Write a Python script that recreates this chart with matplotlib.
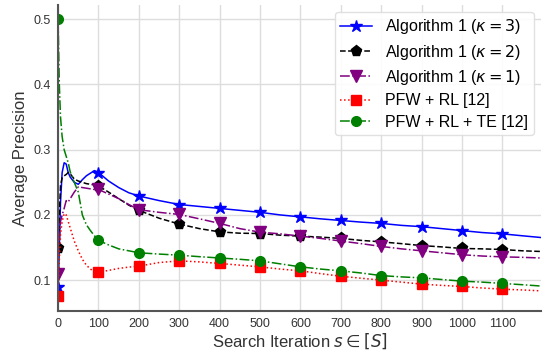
import matplotlib
matplotlib.use("Agg")
import matplotlib.pyplot as plt

plt.rcParams["font.family"] = ["Liberation Sans", "DejaVu Sans"]
plt.rcParams["mathtext.fontset"] = "dejavusans"

x = [0, 3, 6, 10, 15, 20, 25, 30, 40, 50, 60, 70, 80, 90, 100, 125, 150, 175, 200,
     250, 300, 350, 400, 450, 500, 550, 600, 650, 700, 750, 800, 850, 900, 950,
     1000, 1050, 1100, 1150, 1195]

alg_k3 = [0.09, 0.15, 0.22, 0.265, 0.28, 0.278, 0.265, 0.258, 0.25, 0.247, 0.254, 0.26,
          0.264, 0.268, 0.265, 0.252, 0.242, 0.234, 0.229, 0.222, 0.216, 0.213, 0.210,
          0.207, 0.204, 0.200, 0.197, 0.194, 0.1915, 0.189, 0.187, 0.184, 0.182, 0.179,
          0.176, 0.173, 0.171, 0.168, 0.1654]
alg_k2 = [0.15, 0.2, 0.245, 0.257, 0.26, 0.262, 0.265, 0.263, 0.255, 0.252, 0.25, 0.248,
          0.247, 0.246, 0.2445, 0.235, 0.225, 0.215, 0.207, 0.195, 0.186, 0.179, 0.174,
          0.172, 0.1715, 0.169, 0.1675, 0.166, 0.164, 0.161, 0.1587, 0.156, 0.153, 0.151,
          0.1486, 0.148, 0.147, 0.145, 0.144]
alg_k1 = [0.11, 0.16, 0.19, 0.2, 0.21, 0.222, 0.22, 0.225, 0.235, 0.243, 0.242, 0.241,
          0.24, 0.239, 0.239, 0.232, 0.225, 0.216, 0.208, 0.204, 0.2007, 0.194, 0.187,
          0.179, 0.1736, 0.171, 0.1675, 0.164, 0.160, 0.156, 0.1517, 0.148, 0.145, 0.142,
          0.139, 0.137, 0.1357, 0.135, 0.134]
pfw_rl = [0.075, 0.13, 0.17, 0.19, 0.202, 0.2, 0.19, 0.18, 0.16, 0.145, 0.132, 0.123,
          0.117, 0.113, 0.112, 0.115, 0.118, 0.12, 0.1215, 0.127, 0.1296, 0.128, 0.1256,
          0.123, 0.1204, 0.117, 0.1143, 0.110, 0.106, 0.103, 0.100, 0.097, 0.0939, 0.092,
          0.0903, 0.088, 0.0862, 0.085, 0.0836]
pfw_rl_te = [0.5, 0.40, 0.35, 0.32, 0.30, 0.29, 0.28, 0.266, 0.25, 0.235, 0.2, 0.185,
             0.176, 0.168, 0.161, 0.154, 0.148, 0.145, 0.142, 0.140, 0.1383, 0.136, 0.134,
             0.132, 0.1296, 0.125, 0.1204, 0.117, 0.1143, 0.111, 0.107, 0.105, 0.1035,
             0.101, 0.0985, 0.097, 0.095, 0.093, 0.091]

labels = [r"Algorithm 1 ($\kappa = 3$)", r"Algorithm 1 ($\kappa = 2$)",
          r"Algorithm 1 ($\kappa = 1$)", "PFW + RL [12]", "PFW + RL + TE [12]"]
xticks = [0, 100, 200, 300, 400, 500, 600, 700, 800, 900, 1000, 1100]
yticks = [0.1, 0.2, 0.3, 0.4, 0.5]

series = [alg_k3, alg_k2, alg_k1, pfw_rl, pfw_rl_te]
colors = ["blue", "black", "purple", "red", "green"]
styles = ["-", "--", "-.", ":", "-."]
markers = ["*", "p", "v", "s", "o"]
msizes = [9, 8, 8, 7, 7]

mark_idx = [i for i, v in enumerate(x) if v % 100 == 0]

fig = plt.figure(figsize=(5.43, 3.5), dpi=100)
ax = fig.add_axes([0.107, 0.111, 0.889, 0.875])

for ys, c, ls, m, ms, lab in zip(series, colors, styles, markers, msizes, labels):
    ax.plot(x, ys, color=c, linestyle=ls, marker=m, markersize=ms, markevery=mark_idx,
            linewidth=1.1, label=lab)

ax.set_xlim(0, 1195)
ax.set_ylim(0.0525, 0.522)
ax.set_xticks(xticks)
ax.set_yticks(yticks)
ax.set_yticklabels([f"{v:g}" for v in yticks])
ax.grid(True, color="#dddddd", linewidth=1.0)
ax.set_axisbelow(True)
for s in ["top", "right"]:
    ax.spines[s].set_visible(False)
for s in ["left", "bottom"]:
    ax.spines[s].set_color("#555555")
    ax.spines[s].set_linewidth(1.5)
ax.tick_params(length=0, labelsize=9, labelcolor="#333333", pad=5)
ax.set_xlabel(r"Search Iteration $s \in [S]$", fontsize=12, color="#333333", labelpad=1)
ax.set_ylabel("Average Precision", fontsize=12, color="#333333", labelpad=4)
ax.legend(loc="upper right", bbox_to_anchor=(0.985, 0.978), fontsize=11.5, frameon=True,
          framealpha=0.9, edgecolor="#dddddd", fancybox=True, handlelength=2.0,
          borderpad=0.35, labelspacing=0.4, borderaxespad=0.0)

fig.savefig("out.png", dpi=100)
